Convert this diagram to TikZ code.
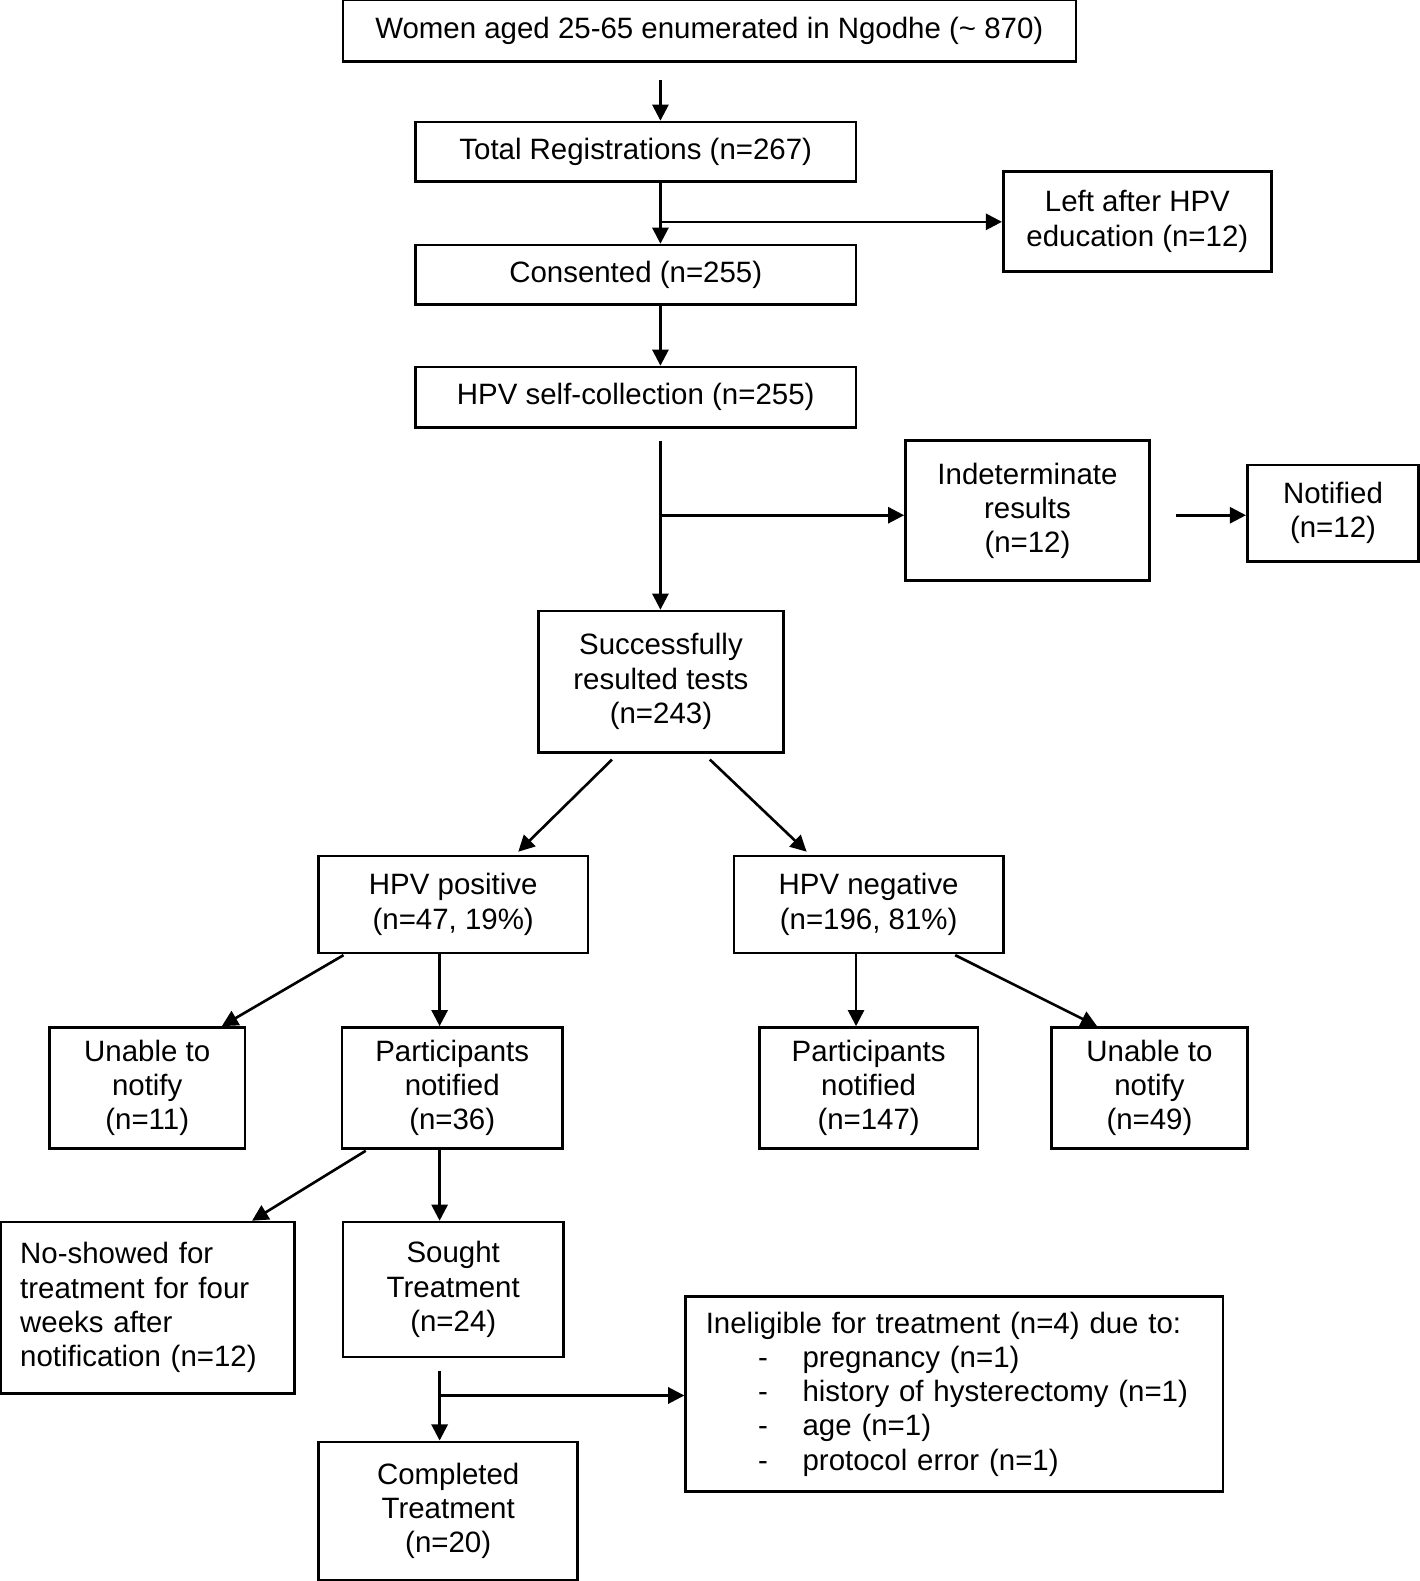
\documentclass[tikz,border=0pt]{standalone}
\usepackage{fontspec}
\setmainfont{Liberation Sans}
\usetikzlibrary{arrows.meta,calc}
\begin{document}
\begin{tikzpicture}[x=0.5pt,y=-0.5pt, line width=1.3pt,
  box/.style={draw, rectangle, align=center, inner sep=0pt, font=\fontsize{14.6}{17}\selectfont},
  arr/.style={-{Triangle[length=8pt,width=8pt]}}]
\useasboundingbox (0,0) rectangle (1408,1568);
% nodes
\node[box, minimum width=363.5pt, minimum height=30.5pt] (top) at (703.5,30.5) {Women aged 25-65 enumerated in Ngodhe (\textasciitilde{} 870)};
\node[box, minimum width=218.5pt, minimum height=29.5pt] (reg) at (630.5,150.5) {Total Registrations (n=267)};
\node[box, minimum width=133pt, minimum height=49.5pt] (left) at (1128,219.5) {Left after HPV\\education (n=12)};
\node[box, minimum width=218.5pt, minimum height=29.5pt] (cons) at (630.5,272.5) {Consented (n=255)};
\node[box, minimum width=218.5pt, minimum height=30pt] (self) at (630.5,394) {HPV self-collection (n=255)};
\node[box, minimum width=121pt, minimum height=69.5pt] (indet) at (1019,506.5) {Indeterminate\\results\\(n=12)};
\node[box, minimum width=85pt, minimum height=48pt] (notif) at (1322,509) {Notified\\(n=12)};
\node[box, minimum width=121.5pt, minimum height=70pt] (succ) at (655.5,676) {Successfully\\resulted tests\\(n=243)};
\node[box, minimum width=133.5pt, minimum height=48pt] (pos) at (449.5,897) {HPV positive\\(n=47, 19\%)};
\node[box, minimum width=133.5pt, minimum height=48pt] (neg) at (861.5,897) {HPV negative\\(n=196, 81\%)};
\node[box, minimum width=97pt, minimum height=60pt] (un11) at (146,1079) {Unable to\\notify\\(n=11)};
\node[box, minimum width=109.5pt, minimum height=60pt] (pn36) at (448.5,1079) {Participants\\notified\\(n=36)};
\node[box, minimum width=108.5pt, minimum height=60pt] (pn147) at (861.5,1079) {Participants\\notified\\(n=147)};
\node[box, minimum width=97pt, minimum height=60pt] (un49) at (1140,1079) {Unable to\\notify\\(n=49)};
\node[box, align=left, inner xsep=9.5pt, text width=126.5pt, minimum height=85pt] (noshow) at (146.5,1297) {No-showed for\\treatment for four\\weeks after\\notification (n=12)};
\node[box, minimum width=109.5pt, minimum height=67pt] (sought) at (449.5,1279) {Sought\\Treatment\\(n=24)};
\node[box, align=left, inner xsep=10pt, text width=246.5pt, minimum height=96.5pt] (inel) at (946.5,1382.5) {Ineligible for treatment (n=4) due to:\\
\hspace*{26pt}\makebox[22pt][l]{-}pregnancy (n=1)\\
\hspace*{26pt}\makebox[22pt][l]{-}history of hysterectomy (n=1)\\
\hspace*{26pt}\makebox[22pt][l]{-}age (n=1)\\
\hspace*{26pt}\makebox[22pt][l]{-}protocol error (n=1)};
\node[box, minimum width=128.5pt, minimum height=68.5pt] (compl) at (444.5,1498.5) {Completed\\Treatment\\(n=20)};
% helper coordinates
\coordinate (trunk) at (655,0);
\coordinate (colA) at (436,0);
\coordinate (colB) at (849,0);
\coordinate (b1) at (655,220);
\coordinate (b2) at (655,511);
\coordinate (b3) at (436,1384);
% connectors
\draw[arr] ($(top.south -| trunk)+(0,17)$) -- (reg.north -| trunk);
\draw[arr] (reg.south -| trunk) -- (cons.north -| trunk);
\draw[arr] (b1) -- (b1 -| left.west);
\draw[arr] (cons.south -| trunk) -- (self.north -| trunk);
\draw[arr] ($(self.south -| trunk)+(0,12)$) -- (succ.north -| trunk);
\draw[arr] (b2) -- (b2 -| indet.west);
\draw[arr] ($(b2 -| indet.east)+(25,0)$) -- (b2 -| notif.west);
\draw[arr] ($(succ.south)+(-48.5,6)$) -- ($(pos.north)+(64.5,-3)$);
\draw[arr] ($(succ.south)+(48.5,6)$) -- ($(neg.north)+(-61.5,-3)$);
\draw[arr] ($(pos.south west)+(26,1)$) -- ($(un11.north)+(74,0)$);
\draw[arr] (pos.south -| colA) -- (pn36.north -| colA);
\draw[arr] (neg.south -| colB) -- (pn147.north -| colB);
\draw[arr] ($(neg.south east)+(-49,1)$) -- ($(un49.north)+(-52,0)$);
\draw[arr] ($(pn36.south west)+(25,1)$) -- ($(noshow.north)+(103.5,0)$);
\draw[arr] (pn36.south -| colA) -- (sought.north -| colA);
\draw[arr] ($(sought.south -| colA)+(0,12)$) -- (compl.north -| colA);
\draw[arr] (b3) -- (b3 -| inel.west);
\end{tikzpicture}
\end{document}
